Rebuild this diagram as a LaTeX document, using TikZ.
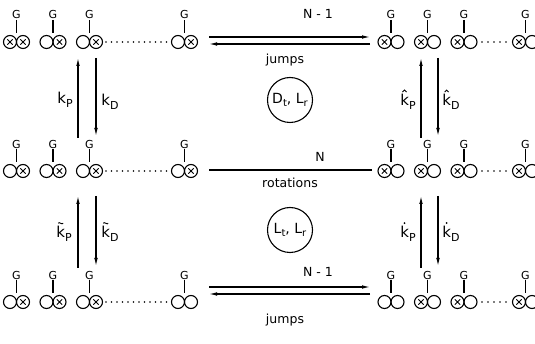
\documentclass[tikz,border=0pt]{standalone}
\usepackage{fontspec}
\setmainfont{DejaVu Sans}
\usetikzlibrary{arrows.meta}
\newcommand\drawchain[5]{% #1 name, #2 y, #3 circles x/type, #4 G x list, #5 dots list
  \foreach \cx/\ct [count=\i] in {#3} {\node[\ct] (#1c\i) at (\cx,#2) {};}
  \foreach \gx [count=\j] in {#4} {
    \node[glab] (#1g\j) at (\gx,#2-27) {G};
    \draw[stem] (#1g\j.south) -- (\gx,#2-9);
  }
  \foreach \dx in {#5} {\fill (\dx,#2) circle (0.8);}
}
\newcommand\sub[1]{\raisebox{-0.45ex}{\fontsize{11}{11}\selectfont #1}}
\begin{document}
\begin{tikzpicture}[x=1pt,y=-1pt,
  mo/.style={circle, draw, line width=1.1pt, minimum size=13pt, inner sep=0pt},
  mx/.style={mo, path picture={\draw[line width=0.8pt]
      ([shift={(-2.7,-2.7)}]path picture bounding box.center) -- ([shift={(2.7,2.7)}]path picture bounding box.center)
      ([shift={(-2.7,2.7)}]path picture bounding box.center) -- ([shift={(2.7,-2.7)}]path picture bounding box.center);}},
  glab/.style={inner sep=0.5pt, font=\fontsize{11}{11}\selectfont},
  stem/.style={line width=1.1pt},
  arr/.style={line width=1.1pt, -{Latex[length=8pt,width=3.6pt]}},
  lab/.style={inner sep=1pt, font=\fontsize{12.5}{13}\selectfont},
  klab/.style={inner sep=1pt, font=\fontsize{15}{16}\selectfont},
  acc/.style={line width=0.9pt},
  ring/.style={circle, draw, line width=1.1pt, minimum size=45pt, inner sep=0pt, font=\fontsize{14}{14}\selectfont}
]
\useasboundingbox (0,0) rectangle (535,344);

% ---- chains ----
\drawchain{tl}{42}{10/mx,23/mx,46.5/mo,59.5/mx,83/mo,96/mx,178/mo,191/mx}{16.5,53,89.5,184.5}{106,111.5,...,171}
\drawchain{ml}{171}{10/mo,23/mx,46.5/mo,59.5/mx,83/mo,96/mx,178/mo,191/mx}{16.5,53,89.5,184.5}{106,111.5,...,171}
\drawchain{bl}{302}{10/mo,23/mx,46.5/mo,59.5/mx,83/mo,96/mx,178/mo,191/mo}{16.5,53,89.5,184.5}{106,111.5,...,171}
\drawchain{tr}{42}{384.5/mx,397.5/mo,421/mx,434/mo,457.5/mx,470.5/mo,519/mx,532/mo}{391,427.5,464,525.5}{482,488,...,511}
\drawchain{mr}{171}{384.5/mx,397.5/mo,421/mx,434/mo,457.5/mx,470.5/mo,519/mx,532/mo}{391,427.5,464,525.5}{482,488,...,511}
\drawchain{br}{302}{384.5/mo,397.5/mo,421/mx,434/mo,457.5/mx,470.5/mo,519/mx,532/mo}{391,427.5,464,525.5}{482,488,...,511}

% ---- horizontal transitions ----
\coordinate (t1a) at (209,37); \coordinate (t1b) at (370,37);
\coordinate (t2a) at (370,44); \coordinate (t2b) at (209,44);
\draw[arr] (t1a) -- (t1b);
\draw[arr] (t2a) -- (t2b);
\node[lab] (tN) at (318,14) {N - 1};
\node[lab] (tj) at (285,60) {jumps};

\coordinate (m1a) at (209,170); \coordinate (m1b) at (372,170);
\draw[line width=1.1pt] (m1a) -- (m1b);
\node[lab] (mN) at (320,157) {N};
\node[lab] (mr) at (290,183) {rotations};

\coordinate (b1a) at (209,287); \coordinate (b1b) at (370,287);
\coordinate (b2a) at (370,294); \coordinate (b2b) at (209,294);
\draw[arr] (b1a) -- (b1b);
\draw[arr] (b2a) -- (b2b);
\node[lab] (bN) at (318,272) {N - 1};
\node[lab] (bj) at (285,320) {jumps};

% ---- rings ----
\node[ring] (r1) at (290,100) {D\raisebox{-0.4ex}{\fontsize{10}{10}\selectfont t}, L\raisebox{-0.4ex}{\fontsize{10}{10}\selectfont r}};
\node[ring] (r2) at (290,230) {L\raisebox{-0.4ex}{\fontsize{10}{10}\selectfont t}, L\raisebox{-0.4ex}{\fontsize{10}{10}\selectfont r}};

% ---- vertical transitions ----
\coordinate (lu1) at (78,138); \coordinate (lu2) at (78,58);
\coordinate (ld1) at (96,58); \coordinate (ld2) at (96,136);
\draw[arr] (lu1) -- (lu2); \draw[arr] (ld1) -- (ld2);
\node[klab] (k1) at (65,100) {k\sub{P}};
\node[klab] (k2) at (110,102) {k\sub{D}};

\coordinate (ru1) at (421,138); \coordinate (ru2) at (421,58);
\coordinate (rd1) at (438,58); \coordinate (rd2) at (438,136);
\draw[arr] (ru1) -- (ru2); \draw[arr] (rd1) -- (rd2);
\node[klab] (k3) at (408,102) {k\sub{P}};
\node[klab] (k4) at (451,102) {k\sub{D}};
\draw[acc] ([shift={(3.4,-1.2)}]k3.north west) -- ++(2,-2) -- ++(2,2);
\draw[acc] ([shift={(3.4,-1.2)}]k4.north west) -- ++(2,-2) -- ++(2,2);

\coordinate (blu1) at (78,268); \coordinate (blu2) at (78,196);
\coordinate (bld1) at (96,196); \coordinate (bld2) at (96,266);
\draw[arr] (blu1) -- (blu2); \draw[arr] (bld1) -- (bld2);
\node[klab] (k5) at (64,234) {k\sub{P}};
\node[klab] (k6) at (110,234) {k\sub{D}};
\draw[acc] ([shift={(3,-2)}]k5.north west) .. controls +(1,-2) and +(-1,2) .. ++(5,0);
\draw[acc] ([shift={(3,-2)}]k6.north west) .. controls +(1,-2) and +(-1,2) .. ++(5,0);

\coordinate (bru1) at (421,268); \coordinate (bru2) at (421,196);
\coordinate (brd1) at (438,196); \coordinate (brd2) at (438,266);
\draw[arr] (bru1) -- (bru2); \draw[arr] (brd1) -- (brd2);
\node[klab] (k7) at (408,234) {k\sub{P}};
\node[klab] (k8) at (451,234) {k\sub{D}};
\fill ([shift={(5.4,-2.2)}]k7.north west) circle (1);
\fill ([shift={(5.4,-2.2)}]k8.north west) circle (1);
\end{tikzpicture}
\end{document}
